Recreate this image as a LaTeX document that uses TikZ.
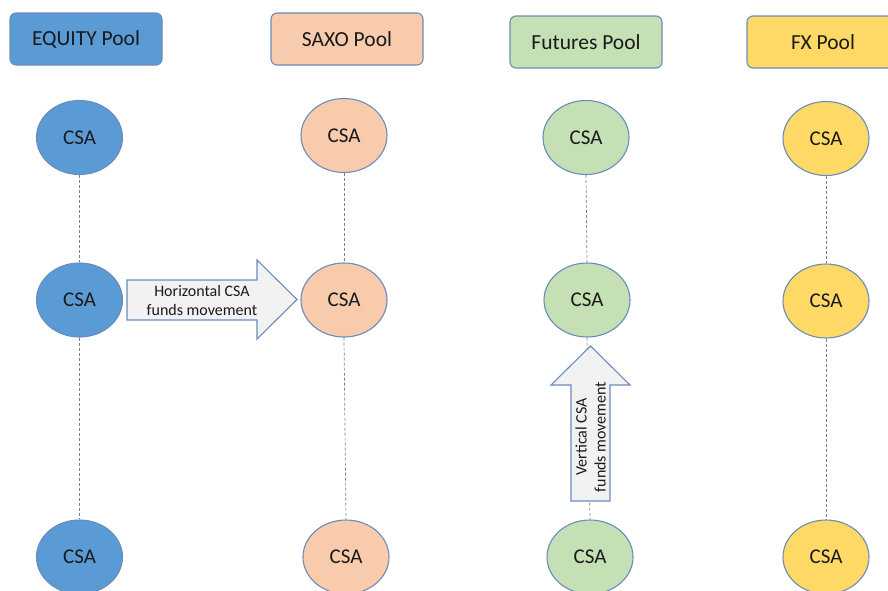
\documentclass[tikz,border=0pt]{standalone}
\usepackage{fontspec}
\setmainfont{Carlito}
\usetikzlibrary{shapes.geometric}
\definecolor{eqblue}{HTML}{5B9BD5}
\definecolor{saxo}{HTML}{F8CBAD}
\definecolor{fut}{HTML}{C5E0B4}
\definecolor{fxy}{HTML}{FFD966}
\definecolor{edge}{HTML}{6A8CBA}
\definecolor{arrfill}{HTML}{F2F2F2}
\definecolor{dashc}{HTML}{7F7F7F}
\definecolor{txt}{HTML}{1A1A1A}
\tikzset{
  pool/.style={draw=edge, line width=1.1pt, rounded corners=6pt, minimum width=152pt, minimum height=52pt, inner sep=0pt, text=txt, font=\fontsize{21.5}{24}\selectfont},
  csa/.style={ellipse, draw=edge, line width=1.1pt, minimum width=86pt, minimum height=74pt, inner sep=0pt, text=txt, font=\fontsize{21}{24}\selectfont},
  link/.style={draw=dashc, line width=0.7pt, dash pattern=on 3pt off 2pt},
  bigarrow/.style={draw=edge, fill=arrfill, line width=1.1pt, line join=miter},
  arrtext/.style={align=center, inner sep=0pt, text=txt, font=\fontsize{16}{19}\selectfont}
}
\begin{document}
\begin{tikzpicture}[x=1pt,y=-1pt]
\useasboundingbox (0,0) rectangle (888,590);
\clip (0,0) rectangle (888,590);
% headers
\node[pool, fill=eqblue] (h1) at (86,39) {EQUITY Pool};
\node[pool, fill=saxo] (h2) at (347,39) {SAXO Pool};
\node[pool, fill=fut] (h3) at (586,42) {Futures Pool};
\node[pool, fill=fxy] (h4) at (823,42) {FX Pool};
% CSA ellipses
\node[csa, fill=eqblue] (t1) at (79.5,137.5) {CSA};
\node[csa, fill=eqblue] (m1) at (79.5,300) {CSA};
\node[csa, fill=eqblue] (b1) at (79.5,557) {CSA};
\node[csa, fill=saxo] (t2) at (344,135.5) {CSA};
\node[csa, fill=saxo] (m2) at (344,300) {CSA};
\node[csa, fill=saxo] (b2) at (346,557) {CSA};
\node[csa, fill=fut] (t3) at (586,137.5) {CSA};
\node[csa, fill=fut] (m3) at (587,300) {CSA};
\node[csa, fill=fut] (b3) at (590,557) {CSA};
\node[csa, fill=fxy] (t4) at (826,138.5) {CSA};
\node[csa, fill=fxy] (m4) at (826,301) {CSA};
\node[csa, fill=fxy] (b4) at (826,557) {CSA};
% dashed links
\foreach \i in {1,2,3,4}{
  \draw[link] (t\i.south) -- (m\i.north);
  \draw[link] (m\i.south) -- (b\i.north);
}
% horizontal arrow
\draw[bigarrow] (127,280) -- (257,280) -- (257,260) -- (297,299.5) -- (257,339) -- (257,320) -- (127,320) -- cycle;
\node[arrtext] (ha) at (202,300) {Horizontal CSA\\funds movement};
% vertical arrow
\draw[bigarrow] (571,501) -- (571,385) -- (551,385) -- (590.5,346) -- (630,385) -- (610,385) -- (610,501) -- cycle;
\node[arrtext, rotate=90] (va) at (590.5,437) {Vertical CSA\\funds movement};
\end{tikzpicture}
\end{document}
